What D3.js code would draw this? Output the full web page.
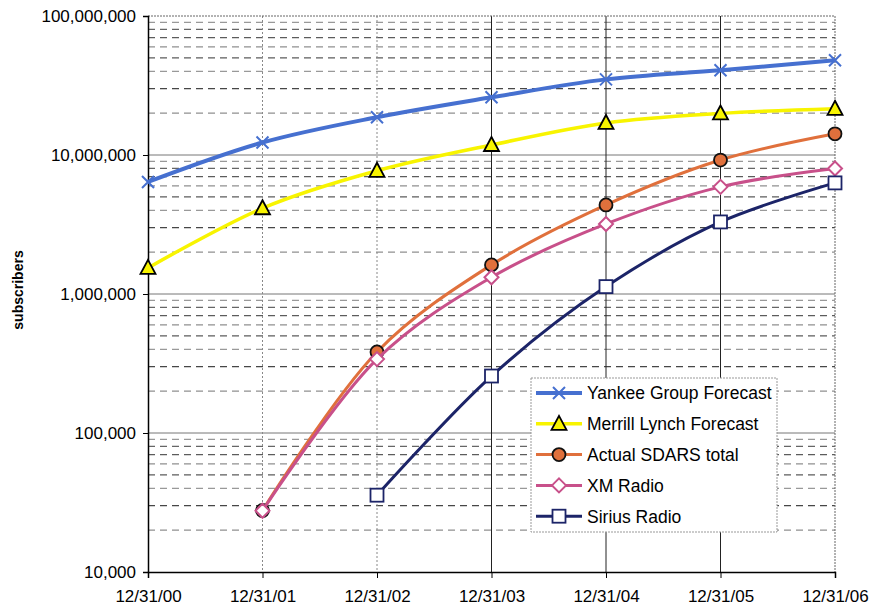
<!DOCTYPE html>
<html>
<head>
<meta charset="utf-8">
<script src="https://cdn.jsdelivr.net/npm/d3@7"></script>
<style>
body { margin: 0; background: #fff; }
text { font-family: Arial, "Liberation Sans", sans-serif; }
</style>
</head>
<body>
<div id="chart"></div>
<script>
const dates = ["12/31/00", "12/31/01", "12/31/02", "12/31/03", "12/31/04", "12/31/05", "12/31/06"]
const yankee = [6400000, 12300000, 18700000, 26000000, 35000000, 40700000, 48000000]
const merrill = [1540000, 4140000, 7700000, 11800000, 17000000, 19900000, 21500000]
const sdars = [null, 27700, 383000, 1620000, 4370000, 9200000, 14200000]
const xm = [null, 27600, 340000, 1320000, 3190000, 5900000, 8000000]
const sirius = [null, null, 35700, 257000, 1130000, 3300000, 6300000]
const yTicks = [10000, 100000, 1000000, 10000000, 100000000]
const seriesNames = ["Yankee Group Forecast", "Merrill Lynch Forecast", "Actual SDARS total", "XM Radio", "Sirius Radio"]

const series = [
	{ name: seriesNames[0], values: yankee, color: "#4670d0", width: 4, marker: "x" },
	{ name: seriesNames[1], values: merrill, color: "#f8f400", width: 3.5, marker: "tri" },
	{ name: seriesNames[2], values: sdars, color: "#e0703c", width: 3, marker: "circle" },
	{ name: seriesNames[3], values: xm, color: "#c8508a", width: 3, marker: "diamond" },
	{ name: seriesNames[4], values: sirius, color: "#1c2468", width: 3, marker: "square" }
]

const svg = d3.select("#chart").append("svg")
	.attr("width", 874)
	.attr("height", 609)

const plotLeft = 148, plotRight = 835, plotTop = 16, plotBottom = 572

const x = d3.scalePoint().domain(dates).range([plotLeft, plotRight])
const y = d3.scaleLog().domain([1e4, 1e8]).range([plotBottom, plotTop])

// minor dashed gridlines
const minor = []
yTicks.slice(0, -1).forEach(d => {
	for (let k = 2; k <= 9; k++) minor.push(d * k)
})
svg.append("g").selectAll("line").data(minor).enter().append("line")
	.attr("x1", plotLeft).attr("x2", plotRight)
	.attr("y1", d => y(d)).attr("y2", d => y(d))
	.attr("stroke", "#333")
	.attr("stroke-opacity", (d, i) => [0.55, 0.9, 0.5, 0.8, 0.55, 0.8, 0.75, 0.5][i % 8])
	.attr("stroke-dasharray", "7,5")
	.attr("stroke-width", 1.2)

// decade lines
svg.append("g").selectAll("line").data(yTicks.slice(1, -1)).enter().append("line")
	.attr("x1", plotLeft).attr("x2", plotRight)
	.attr("y1", d => y(d)).attr("y2", d => y(d))
	.attr("stroke", "#777")
	.attr("stroke-width", 1)

// vertical gridlines
svg.append("g").selectAll("line").data(dates.slice(1, -1)).enter().append("line")
	.attr("x1", d => x(d)).attr("x2", d => x(d))
	.attr("y1", plotTop).attr("y2", plotBottom)
	.attr("stroke", (d, i) => i < 2 ? "#888" : "#222")
	.attr("stroke-dasharray", (d, i) => i < 2 ? "2,2" : null)
	.attr("stroke-width", 1)

// plot border top/right
svg.append("path")
	.attr("d", `M${plotLeft},${plotTop}H${plotRight}V${plotBottom}`)
	.attr("fill", "none")
	.attr("stroke", "#666")
	.attr("stroke-dasharray", "2,1")

// axes
const yAxis = svg.append("g")
	.attr("transform", `translate(${plotLeft},0)`)
	.call(d3.axisLeft(y).tickValues(yTicks).tickSize(5).tickFormat(d3.format(",")))
yAxis.select(".domain").attr("stroke", "#000").attr("stroke-width", 1.5)
yAxis.selectAll("text").attr("font-size", 17).attr("fill", "#000").attr("x", -12)

const xAxis = svg.append("g")
	.attr("transform", `translate(0,${plotBottom})`)
	.call(d3.axisBottom(x).tickSize(6).tickPadding(12))
xAxis.select(".domain").attr("stroke", "#000").attr("stroke-width", 1.5)
xAxis.selectAll("text").attr("font-size", 17).attr("fill", "#000")

svg.append("text")
	.attr("transform", "translate(23,290) rotate(-90)")
	.attr("text-anchor", "middle")
	.attr("font-size", 14)
	.attr("font-weight", "bold")
	.text("subscribers")

function drawMarker(g, s, cx, cy) {
	if (s.marker == "x") {
		g.append("path")
			.attr("d", `M${cx - 6},${cy - 6}L${cx + 6},${cy + 6}M${cx - 6},${cy + 6}L${cx + 6},${cy - 6}`)
			.attr("stroke", s.color).attr("stroke-width", 2).attr("fill", "none")
		return
	}
	if (s.marker == "tri") {
		g.append("path")
			.attr("d", `M${cx},${cy - 8}L${cx + 7.5},${cy + 6}L${cx - 7.5},${cy + 6}Z`)
			.attr("fill", s.color).attr("stroke", "#000").attr("stroke-width", 1.8)
		return
	}
	if (s.marker == "circle") {
		g.append("circle").attr("cx", cx).attr("cy", cy).attr("r", 6.5)
			.attr("fill", s.color).attr("stroke", "#111").attr("stroke-width", 1.8)
		return
	}
	if (s.marker == "diamond") {
		g.append("path")
			.attr("d", `M${cx},${cy - 7}L${cx + 7},${cy}L${cx},${cy + 7}L${cx - 7},${cy}Z`)
			.attr("fill", "#fff").attr("stroke", s.color).attr("stroke-width", 2)
		return
	}
	if (s.marker == "square") {
		g.append("rect").attr("x", cx - 6.5).attr("y", cy - 6.5).attr("width", 13).attr("height", 13)
			.attr("fill", "#fff").attr("stroke", s.color).attr("stroke-width", 1.8)
	}
}

const line = d3.line()
	.defined(d => d.v != null)
	.x(d => x(d.date))
	.y(d => y(d.v))
	.curve(d3.curveCatmullRom.alpha(0.5))

series.forEach(s => {
	const pts = s.values.map((v, i) => ({ date: dates[i], v: v })).filter(d => d.v != null)
	const g = svg.append("g")
	g.append("path")
		.datum(pts)
		.attr("d", line)
		.attr("fill", "none")
		.attr("stroke", s.color)
		.attr("stroke-width", s.width)
	pts.forEach(d => drawMarker(g, s, x(d.date), y(d.v)))
})

// legend
const lg = svg.append("g")
lg.append("rect")
	.attr("x", 531).attr("y", 378).attr("width", 246).attr("height", 154)
	.attr("fill", "#fff").attr("stroke", "#999").attr("stroke-dasharray", "2,1")
series.forEach((s, i) => {
	const ly = 393 + i * 30.8
	lg.append("line")
		.attr("x1", 536).attr("x2", 582).attr("y1", ly).attr("y2", ly)
		.attr("stroke", s.color).attr("stroke-width", s.width)
	drawMarker(lg, s, 559, ly)
	lg.append("text")
		.attr("x", 587).attr("y", ly).attr("dy", "0.36em")
		.attr("font-size", 17.5)
		.text(s.name)
})
</script>
</body>
</html>
